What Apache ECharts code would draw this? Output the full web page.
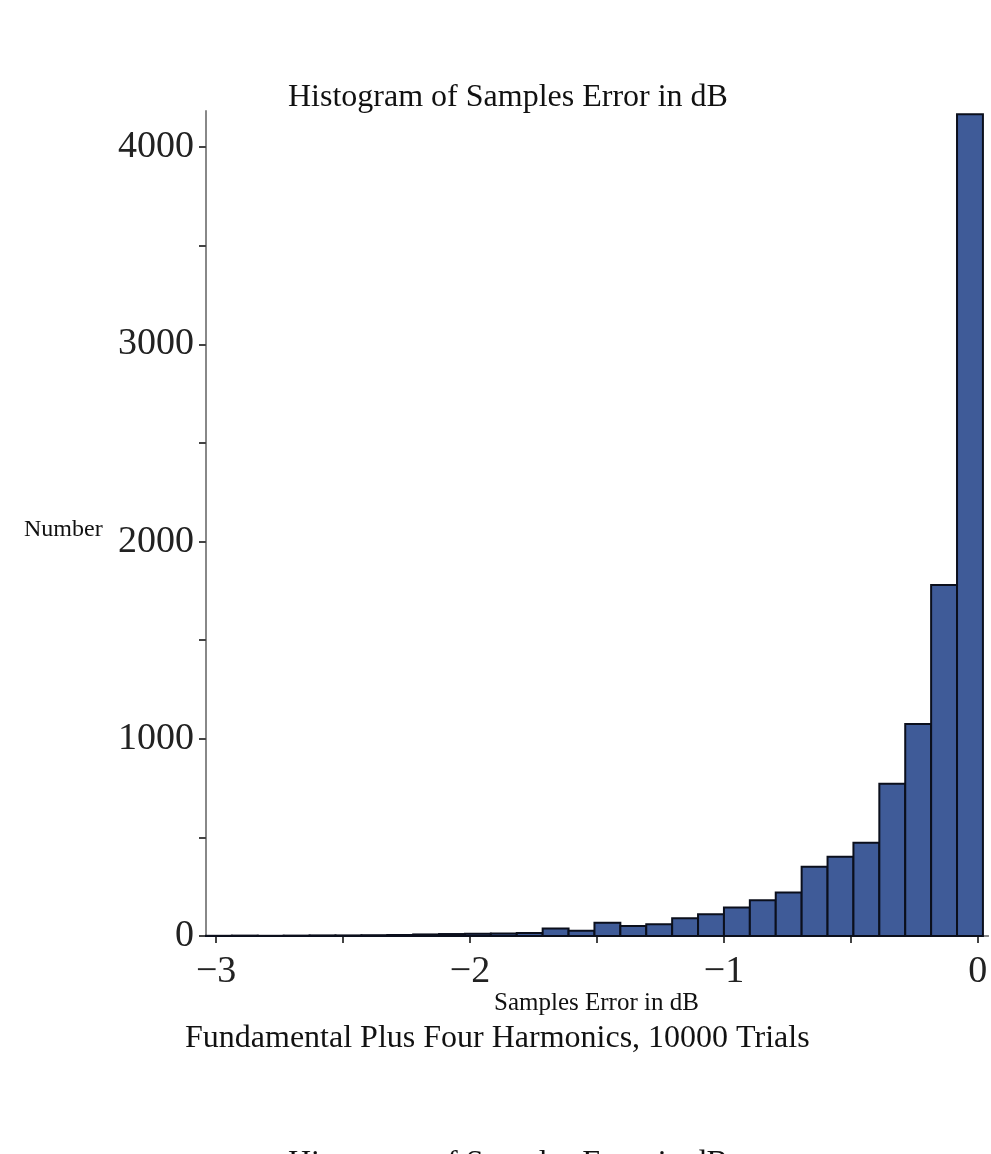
<!DOCTYPE html>
<html>
<head>
<meta charset="utf-8">
<script src="https://cdn.jsdelivr.net/npm/echarts@6/dist/echarts.min.js"></script>
<style>
html,body{margin:0;padding:0;background:#fff;}
#chart{width:991px;height:1154px;}
</style>
</head>
<body>
<div id="chart"></div>
<script>
// Histogram bin edges (dB) and counts per bin
const binEdges = [-3.040, -2.938, -2.836, -2.734, -2.632, -2.530, -2.428, -2.326, -2.224, -2.122,
  -2.020, -1.918, -1.816, -1.714, -1.612, -1.510, -1.408, -1.306, -1.204, -1.102,
  -1.000, -0.898, -0.796, -0.694, -0.592, -0.490, -0.388, -0.286, -0.184, -0.082, 0.020];
const counts = [1, 2, 1, 2, 3, 3, 4, 5, 8, 10,
  12, 13, 15, 38, 27, 67, 51, 59, 90, 110,
  144, 181, 221, 351, 402, 473, 772, 1075, 1780, 4167];
const xTickLabels = [-3, -2, -1, 0];
const xTickMarks = [-3, -2.5, -2, -1.5, -1, -0.5, 0];
const yTickLabels = [0, 1000, 2000, 3000, 4000];
const yTickMarks = [0, 500, 1000, 1500, 2000, 2500, 3000, 3500, 4000];

const titleText = 'Histogram of Samples Error in dB';
const xName = 'Samples Error in dB';
const yName = 'Number';
const caption = 'Fundamental Plus Four Harmonics, 10000 Trials';

const data = counts.map((c, i) => [binEdges[i], binEdges[i + 1], c]);
const FONT = '"Liberation Serif", "DejaVu Serif", serif';
const fmtNum = v => (v < 0 ? '\u2212' + (-v) : String(v));

const chart = echarts.init(document.getElementById('chart'), null, {renderer: 'canvas'});
chart.setOption({
  backgroundColor: '#ffffff',
  animation: false,
  title: [
    {text: titleText, left: 283, top: 77, textStyle: {fontFamily: FONT, fontSize: 32, fontWeight: 'normal', color: '#111'}},
    {text: yName, left: 19, top: 513, textStyle: {fontFamily: FONT, fontSize: 24, fontWeight: 'normal', color: '#111'}},
    {text: xName, left: 489, top: 986, textStyle: {fontFamily: FONT, fontSize: 25, fontWeight: 'normal', color: '#111'}},
    {text: caption, left: 180, top: 1018, textStyle: {fontFamily: FONT, fontSize: 32, fontWeight: 'normal', color: '#111'}},
    {text: titleText, left: 283, top: 1143, textStyle: {fontFamily: FONT, fontSize: 32, fontWeight: 'normal', color: '#111'}}
  ],
  grid: {left: 206, top: 111, right: 3, bottom: 218, containLabel: false},
  xAxis: [{
    type: 'value', min: -3.04, max: 0.04, position: 'bottom',
    splitLine: {show: false},
    axisLine: {show: true, onZero: false, lineStyle: {color: '#888', width: 2}},
    axisTick: {show: true, length: 7, customValues: xTickMarks, lineStyle: {color: '#444', width: 2}},
    axisLabel: {show: true, customValues: xTickLabels, margin: 17, formatter: fmtNum,
      fontFamily: FONT, fontSize: 38, color: '#222'}
  }, {
    type: 'value', min: -3.04, max: 0.04, position: 'top',
    splitLine: {show: false},
    axisLine: {show: true, lineStyle: {color: '#888', width: 2}},
    axisTick: {show: false}, axisLabel: {show: false}
  }],
  yAxis: {
    type: 'value', min: 0, max: 4183,
    splitLine: {show: false},
    axisLine: {show: true, onZero: false, lineStyle: {color: '#888', width: 2}},
    axisTick: {show: true, length: 7, customValues: yTickMarks, lineStyle: {color: '#444', width: 2}},
    axisLabel: {show: true, customValues: yTickLabels, margin: 12, formatter: fmtNum,
      fontFamily: FONT, fontSize: 38, color: '#222'}
  },
  series: [{
    type: 'custom',
    xAxisIndex: 0,
    data: data,
    encode: {x: [0, 1], y: 2},
    renderItem: function (params, api) {
      const p0 = api.coord([api.value(0), api.value(2)]);
      const p1 = api.coord([api.value(1), 0]);
      return {
        type: 'rect',
        shape: {x: p0[0], y: p0[1], width: p1[0] - p0[0], height: p1[1] - p0[1]},
        style: {fill: '#3f5b98', stroke: '#0b0f1c', lineWidth: 2}
      };
    }
  }]
});
</script>
</body>
</html>
